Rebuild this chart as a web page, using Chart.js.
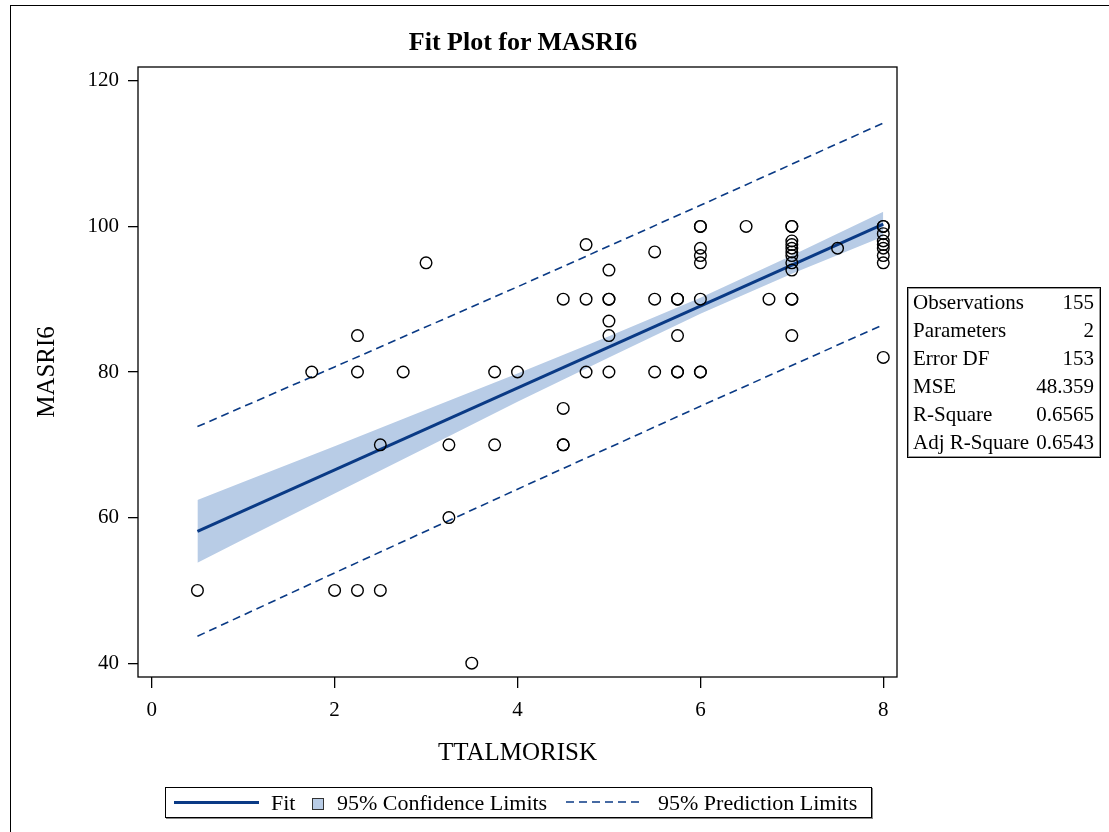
<!DOCTYPE html>
<html>
<head>
<meta charset="utf-8">
<title>Fit Plot for MASRI6</title>
<script src="https://cdn.jsdelivr.net/npm/chart.js@4.4.1/dist/chart.umd.min.js"></script>
<style>
  body { margin: 0; background: #fff; font-family: "Liberation Serif", "Times New Roman", serif; color: #000; }
  #wrap { position: relative; width: 1109px; height: 832px; overflow: hidden; }
  #frame { position: absolute; left: 10px; top: 5px; width: 1200px; height: 900px; border: 1px solid #000; }
  #fitChart { position: absolute; left: 0; top: 0; }
  #title { position: absolute; left: 323px; width: 400px; top: 26px; text-align: center;
           font-weight: bold; font-size: 26px; line-height: 32px; }
  #stats { position: absolute; left: 907px; top: 287px; width: 192px; height: 169px;
           border: 1px solid #000; box-shadow: inset 0 0 0 1px #999; }
  #stats table { border-collapse: collapse; margin: 0 0 0 5px; width: 181px; font-size: 21px; }
  #stats td { padding: 0; line-height: 28px; height: 28px; white-space: nowrap; }
  #stats td.v { text-align: right; }
  #legend { position: absolute; left: 165px; top: 787px; width: 705px; height: 29px;
            border: 1px solid #000; box-shadow: 1px 1px 0 #888; font-size: 22px; }
  #legend > * { position: absolute; }
  #legend .txt { top: 0; line-height: 29px; white-space: nowrap; }
</style>
</head>
<body>
<div id="wrap">
  <div id="frame"></div>
  <canvas id="fitChart" width="1109" height="832"></canvas>
  <div id="title">Fit Plot for MASRI6</div>
  <div id="stats"><table id="statsTable"></table></div>
  <div id="legend"></div>
</div>
<script>
// ---- data ----
// observations (TTALMORISK, MASRI6); repeats are overplotted points
const obsX = [0.5, 1.75, 2, 2.25, 2.25, 2.25, 2.5, 2.5, 2.75, 3,
              3.25, 3.25, 3.5, 3.75, 3.75, 4, 4.5, 4.5, 4.5, 4.5,
              4.75, 4.75, 4.75, 5, 5, 5, 5, 5, 5, 5.5,
              5.5, 5.5, 5.75, 5.75, 5.75, 5.75, 5.75, 6, 6, 6,
              6, 6, 6, 6, 6, 6.5, 6.75, 7, 7, 7,
              7, 7, 7, 7, 7, 7, 7, 7, 7, 7.5,
              8, 8, 8, 8, 8, 8, 8, 8, 8];
const obsY = [50, 80, 50, 85, 80, 50, 70, 50, 80, 95,
              70, 60, 40, 80, 70, 80, 90, 75, 70, 70,
              97.5, 90, 80, 94, 90, 90, 87, 85, 80, 96.5,
              90, 80, 90, 90, 85, 80, 80, 100, 100, 97,
              96, 95, 90, 80, 80, 100, 90, 100, 100, 98,
              97.5, 97, 96.5, 96, 95, 94, 90, 90, 85, 97,
              100, 100, 99, 98, 97.5, 97, 96, 95, 82];

// fitted line
const fitX = [0.5, 8];
const fitY = [58.1, 100.3];

// 95% confidence band
const clmX     = [0.5, 1, 2, 3, 4, 5, 6, 7, 8];
const clmLower = [53.8, 57.0, 63.3, 69.6, 75.9, 82.0, 88.0, 93.5, 98.6];
const clmUpper = [62.4, 64.9, 69.8, 74.8, 79.8, 84.9, 90.2, 96.0, 102.0];

// 95% prediction limits
const predX     = [0.5, 2, 4, 6, 8];
const predLower = [43.7, 52.4, 63.9, 75.3, 86.5];
const predUpper = [72.5, 80.7, 91.7, 102.9, 114.2];

// axis ticks
const xTicks = [0, 2, 4, 6, 8];
const yTicks = [40, 60, 80, 100, 120];

// fit statistics table
const statLabels = ['Observations', 'Parameters', 'Error DF', 'MSE', 'R-Square', 'Adj R-Square'];
const statValues = ['155', '2', '153', '48.359', '0.6565', '0.6543'];

const NAVY = '#0a3a85';
const BAND = '#b8cce6';
const FONT = 'Liberation Serif';

Chart.defaults.font.family = FONT;
Chart.defaults.color = '#000';

function toXY(xs, ys) {
    return xs.map((x, i) => ({ x: x, y: ys[i] }));
}

// stroke the whole plot wall
const plotFrame = {
    id: 'plotFrame',
    afterDatasetsDraw(chart) {
        const { ctx, chartArea: a } = chart;
        ctx.save();
        ctx.strokeStyle = '#000';
        ctx.lineWidth = 1.3;
        ctx.strokeRect(a.left, a.top, a.right - a.left, a.bottom - a.top);
        ctx.restore();
    }
};

const lineBase = { pointRadius: 0, pointHoverRadius: 0, tension: 0, fill: false };

new Chart(document.getElementById('fitChart').getContext('2d'), {
    type: 'line',
    data: {
        datasets: [
            {
                label: 'Observations',
                data: toXY(obsX, obsY),
                showLine: false,
                pointRadius: 5.8,
                pointHoverRadius: 5.8,
                pointBorderWidth: 1.4,
                pointBorderColor: '#000',
                pointBackgroundColor: 'rgba(0,0,0,0)'
            },
            Object.assign({ label: 'Fit', data: toXY(fitX, fitY), borderColor: NAVY, borderWidth: 3 }, lineBase),
            Object.assign({ label: '95% Prediction Limits', data: toXY(predX, predUpper),
                borderColor: NAVY, borderWidth: 1.6, borderDash: [8, 5] }, lineBase),
            Object.assign({ label: '95% Prediction Limits (lower)', data: toXY(predX, predLower),
                borderColor: NAVY, borderWidth: 1.6, borderDash: [8, 5] }, lineBase),
            Object.assign({ label: 'CLM lower', data: toXY(clmX, clmLower),
                borderColor: 'rgba(0,0,0,0)', borderWidth: 1 }, lineBase),
            Object.assign({}, lineBase, { label: '95% Confidence Limits', data: toXY(clmX, clmUpper),
                borderColor: 'rgba(0,0,0,0)', borderWidth: 1, backgroundColor: BAND, fill: '-1' })
        ]
    },
    options: {
        responsive: false,
        animation: false,
        devicePixelRatio: 1,
        events: [],
        layout: { padding: { left: 0, top: 67, right: 212, bottom: 0 } },
        plugins: {
            legend: { display: false },
            tooltip: { enabled: false },
            title: { display: false }
        },
        scales: {
            x: {
                type: 'linear',
                min: -0.15,
                max: 8.15,
                afterBuildTicks: s => { s.ticks = xTicks.map(v => ({ value: v })); },
                afterFit: s => { s.height = 155; },
                ticks: { font: { size: 21 }, color: '#000', padding: 10, maxRotation: 0 },
                grid: { drawOnChartArea: false, drawTicks: true, tickLength: 11, color: '#000', lineWidth: 1.3 },
                border: { display: false },
                title: { display: true, text: 'TTALMORISK', font: { size: 25 }, color: '#000',
                         padding: { top: 0, bottom: 64 } }
            },
            y: {
                type: 'linear',
                min: 38.1,
                max: 121.9,
                afterBuildTicks: s => { s.ticks = yTicks.map(v => ({ value: v })); },
                afterFit: s => { s.width = 138; },
                ticks: { font: { size: 21 }, color: '#000', padding: 9 },
                grid: { drawOnChartArea: false, drawTicks: true, tickLength: 10, color: '#000', lineWidth: 1.3 },
                border: { display: false },
                title: { display: true, text: 'MASRI6', font: { size: 25 }, color: '#000',
                         padding: { top: 32, bottom: 0 } }
            }
        }
    },
    plugins: [plotFrame]
});

// stats table
const table = document.getElementById('statsTable');
statLabels.forEach((lab, i) => {
    const tr = document.createElement('tr');
    tr.innerHTML = `<td>${lab}</td><td class="v">${statValues[i]}</td>`;
    table.appendChild(tr);
});

// legend
const legend = document.getElementById('legend');
legend.innerHTML = `
    <div style="left:8px; top:13px; width:85px; height:3px; background:${NAVY};"></div>
    <div class="txt" style="left:105px;">Fit</div>
    <div style="left:146px; top:10px; width:10px; height:10px; background:${BAND}; border:1px solid #333;"></div>
    <div class="txt" style="left:171px;">95% Confidence Limits</div>
    <svg style="left:400px; top:12px;" width="78" height="4">
        <line x1="0" y1="2" x2="78" y2="2" stroke="${NAVY}" stroke-width="1.6" stroke-dasharray="8 5"/>
    </svg>
    <div class="txt" style="left:492px;">95% Prediction Limits</div>
`;
</script>
</body>
</html>
